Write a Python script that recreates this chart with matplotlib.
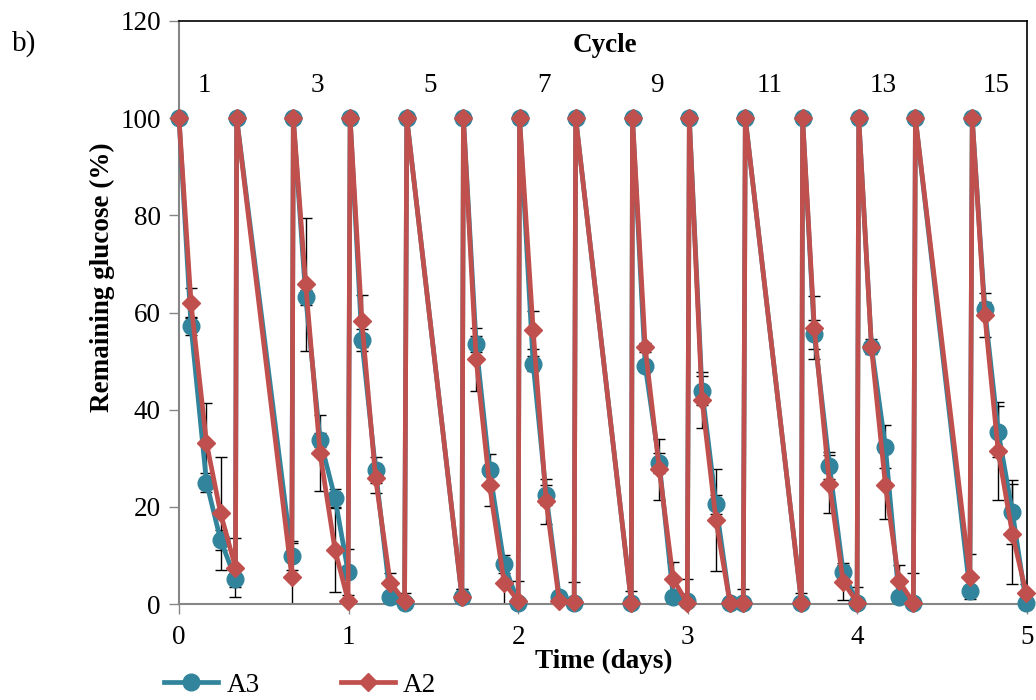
import matplotlib
matplotlib.use("Agg")
import matplotlib.pyplot as plt
from matplotlib.lines import Line2D

# ── data ────────────────────────────────────────────────────────────────────
# sampling times in days; cycle starts (100 %) follow each cycle end
time_days = [
    0.000, 0.071, 0.162, 0.245, 0.333,
    0.340, 0.665,
    0.674, 0.747, 0.832, 0.920, 0.997,
    1.009, 1.078, 1.159, 1.245, 1.330,
    1.343, 1.668,
    1.677, 1.752, 1.831, 1.917, 2.000,
    2.008, 2.088, 2.165, 2.242, 2.330,
    2.339, 2.667,
    2.674, 2.749, 2.832, 2.914, 2.997,
    3.009, 3.084, 3.166, 3.248, 3.327,
    3.339, 3.670,
    3.677, 3.746, 3.835, 3.916, 3.998,
    4.008, 4.083, 4.165, 4.245, 4.330,
    4.342, 4.663,
    4.677, 4.751, 4.830, 4.914, 4.995,
]

a3 = [
    100, 57.2, 25.0, 13.2, 5.1,
    100, 9.9,
    100, 63.1, 33.8, 21.8, 6.6,
    100, 54.3, 27.6, 1.5, 0.3,
    100, 1.5,
    100, 53.5, 27.6, 8.2, 0.3,
    100, 49.5, 22.4, 1.5, 0.3,
    100, 0.3,
    100, 49.0, 29.0, 1.5, 0.6,
    100, 43.9, 20.5, 0.3, 0.3,
    100, 0.3,
    100, 55.5, 28.5, 6.6, 0.3,
    100, 53.0, 32.4, 1.5, 0.3,
    100, 2.7,
    100, 60.7, 35.5, 18.9, 0.2,
]
a3_err = [
    0, 1.9, 1.9, 2.1, 1.7,
    0, 3.0,
    0, 1.5, 1.5, 1.8, 4.7,
    0, 2.3, 2.7, 0.5, 0.3,
    0, 1.5,
    0, 1.7, 3.2, 1.9, 0.3,
    0, 1.5, 2.0, 0.5, 0.3,
    0, 0.3,
    0, 1.0, 2.0, 0.5, 0.5,
    0, 3.0, 2.0, 0.3, 0.3,
    0, 0.3,
    0, 3.0, 2.7, 1.5, 0.3,
    0, 1.5, 4.4, 0.5, 0.3,
    0, 1.0,
    0, 1.5, 5.3, 6.6, 0.3,
]

a2 = [
    100, 61.9, 33.2, 18.7, 7.5,
    100, 5.6,
    100, 65.8, 31.0, 11.1, 0.7,
    100, 58.3, 25.9, 4.4, 0.6,
    100, 1.5,
    100, 50.4, 24.4, 4.4, 0.6,
    100, 56.4, 21.1, 0.6, 0.4,
    100, 0.3,
    100, 52.8, 27.7, 5.1, 0.2,
    100, 42.0, 17.3, 0.3, 0.3,
    100, 0.3,
    100, 56.9, 24.7, 4.6, 0.3,
    100, 52.8, 24.5, 4.7, 0.3,
    100, 5.6,
    100, 59.5, 31.5, 14.4, 2.2,
]
a2_err = [
    0, 3.1, 8.1, 11.6, 6.0,
    0, 7.0,
    0, 13.7, 7.8, 8.7, 0.5,
    0, 5.4, 3.0, 2.0, 1.7,
    0, 1.5,
    0, 6.5, 4.2, 4.7, 4.2,
    0, 4.0, 4.7, 1.0, 4.1,
    0, 2.4,
    0, 1.0, 6.3, 3.6, 4.9,
    0, 5.8, 10.5, 0.3, 2.8,
    0, 1.9,
    0, 6.5, 6.0, 3.8, 3.1,
    0, 1.0, 7.1, 3.3, 6.1,
    0, 4.6,
    0, 4.6, 10.0, 10.3, 2.0,
]

cycle_labels = [1, 3, 5, 7, 9, 11, 13, 15]

TEAL = "#31849B"
RED = "#C0504D"
GRAY = "#868686"
FS = 19.5

plt.rcParams["font.family"] = ["Liberation Serif", "DejaVu Serif"]

fig = plt.figure(figsize=(10.36, 7.0), dpi=100)
ax = fig.add_axes([179 / 1036, 1 - 604 / 700, (1027 - 179) / 1036, (604 - 21) / 700])

# error bars first, markers sit on top
ax.errorbar(time_days, a3, yerr=a3_err, fmt="none", ecolor="black",
            elinewidth=1.0, capsize=4, capthick=1.0, zorder=2)
ax.errorbar(time_days, a2, yerr=a2_err, fmt="none", ecolor="black",
            elinewidth=1.0, capsize=4, capthick=1.0, zorder=2)

ax.plot(time_days, a3, color=TEAL, lw=3.4, marker="o", ms=12,
        mec=TEAL, mfc=TEAL, zorder=3, clip_on=False)
ax.plot(time_days, a2, color=RED, lw=3.4, marker="D", ms=9,
        mec=RED, mfc=RED, zorder=4, clip_on=False)

ax.set_xlim(0, 5)
ax.set_ylim(0, 120)
ax.set_xticks(range(0, 6))
ax.set_yticks(range(0, 121, 20))

ax.tick_params(axis="both", labelsize=FS, color=GRAY, direction="out",
               length=7, width=1.0)
ax.tick_params(axis="x", pad=8)
ax.tick_params(axis="y", pad=6)

for side in ("left", "bottom"):
    ax.spines[side].set_color(GRAY)
    ax.spines[side].set_linewidth(1.5)
for side in ("top", "right"):
    ax.spines[side].set_color("black")
    ax.spines[side].set_linewidth(1.2)

ax.set_xlabel("Time (days)", fontsize=FS, fontweight="bold")
ax.xaxis.set_label_coords(0.501, -0.077)
ax.set_ylabel("Remaining glucose (%)", fontsize=FS, fontweight="bold")
ax.yaxis.set_label_coords(-0.076, 0.561)

# cycle numbers across the top
ax.text(2.51, 115, "Cycle", fontsize=FS, fontweight="bold",
        ha="center", va="center")
for c in cycle_labels:
    ax.text((c - 1) / 3 + 0.15, 106.8, str(c), fontsize=FS,
            ha="center", va="center")

fig.text(24 / 1036, 1 - 44 / 700, "b)", fontsize=21, ha="center", va="center")

handles = [
    Line2D([], [], color=TEAL, lw=3.4, marker="o", ms=12),
    Line2D([], [], color=RED, lw=3.4, marker="D", ms=9),
]
fig.legend(handles, ["A3", "A2"], loc="center left",
           bbox_to_anchor=(164 / 1036, 1 - 685 / 700), ncol=2, frameon=False,
           fontsize=FS, handlelength=2.0, handletextpad=0.3,
           columnspacing=3.0, borderpad=0, borderaxespad=0)

fig.savefig("out.png", dpi=100)
